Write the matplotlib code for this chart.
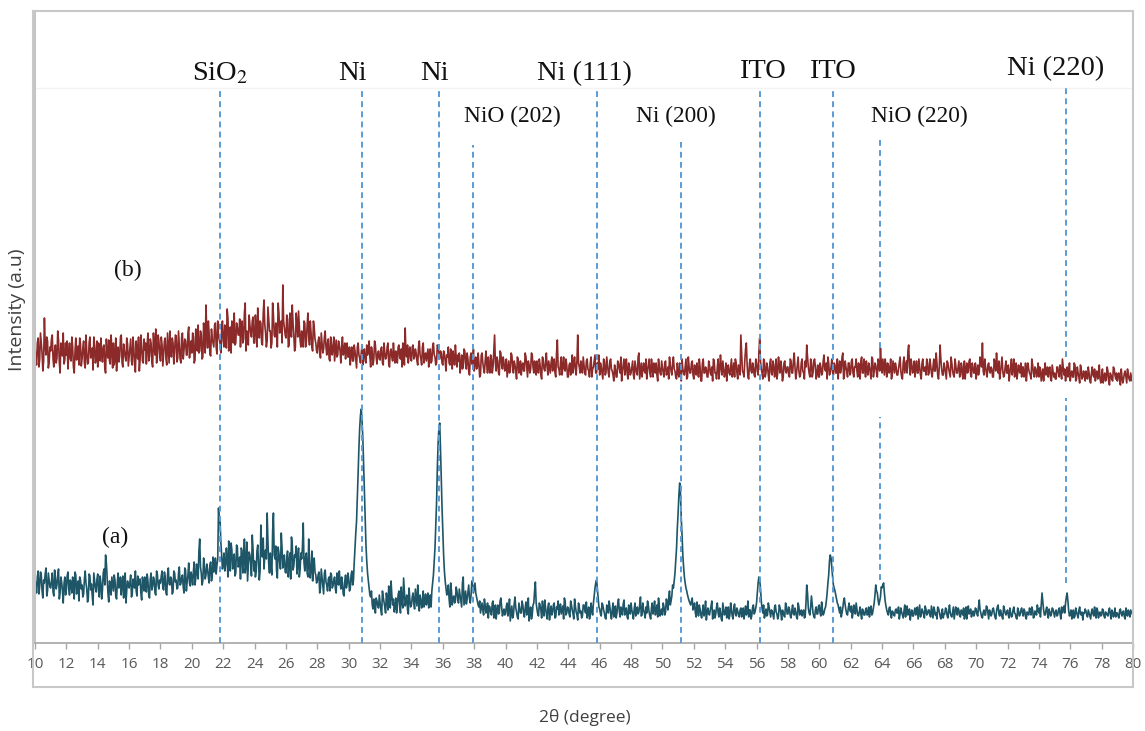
import numpy as np
import matplotlib
matplotlib.use("Agg")
import matplotlib.pyplot as plt
from matplotlib.patches import Rectangle

# ---------------- data (heights, arbitrary units) ----------------
two_theta_start = 10.0
two_theta_end = 80.0

# trace (a): Ni film (teal) at 10.0, 10.1, ... 80.0
intensity_a = [
    64,50,72,57,68,45,60,75,52,63,
    55,70,47,65,58,74,50,61,40,66,
    53,71,48,60,66,44,68,56,42,63,
    58,49,72,54,45,67,59,38,62,51,
    69,46,60,53,74,88,64,41,57,66,
    52,63,44,70,56,48,67,59,40,62,
    55,68,49,61,72,47,58,64,43,60,
    66,51,62,45,70,57,63,48,69,54,
    60,72,53,66,48,75,58,64,51,70,
    63,55,76,59,68,50,73,61,80,57,
    66,72,58,79,64,104,70,62,77,68,
    74,60,81,67,71,85,78,135,122,88,
    80,72,95,66,84,100,74,89,70,96,
    78,64,92,83,70,101,76,88,67,94,
    82,71,98,63,118,86,74,93,130,79,
    90,68,130,84,72,96,80,110,75,88,
    70,92,81,64,99,77,86,69,95,73,
    84,120,72,90,66,80,74,62,85,68,
    62,71,55,66,49,73,58,64,52,68,
    57,66,50,63,72,54,60,47,68,59,
    64,55,72,62,95,122,170,215,234,205,
    152,98,70,55,46,38,44,30,42,35,
    40,28,46,36,50,33,44,62,38,31,
    45,36,52,30,41,65,37,48,29,43,
    38,50,34,46,58,32,44,40,36,49,
    42,35,48,52,68,95,140,200,220,165,
    110,72,55,50,44,60,38,47,42,52,
    40,48,36,66,45,39,51,44,48,58,
    55,50,42,36,30,40,28,38,33,25,
    36,28,42,31,24,38,30,45,27,34,
    29,40,33,22,37,28,46,31,24,35,
    30,38,26,41,33,22,36,28,40,61,
    34,27,38,25,32,43,29,36,23,37,
    31,40,26,34,28,39,33,24,41,30,
    35,26,38,29,44,31,23,36,32,27,
    38,30,25,36,28,33,40,55,63,45,
    34,27,38,30,24,35,42,29,33,26,
    37,30,44,26,33,39,28,35,24,31,
    40,29,34,27,36,31,46,28,33,25,
    30,38,27,35,29,42,32,26,37,30,
    28,36,31,40,45,38,47,55,70,95,
    130,160,125,88,66,55,48,42,38,45,
    36,30,41,27,34,25,38,30,23,35,
    28,37,24,33,29,40,26,31,22,34,
    30,25,36,28,33,24,39,27,32,26,
    35,29,24,37,30,26,33,28,38,31,
    40,60,63,42,30,25,34,28,36,26,
    32,24,38,29,27,35,23,31,26,37,
    29,34,25,38,28,31,24,36,30,27,
    33,26,58,35,28,47,30,25,36,29,
    38,27,33,30,36,50,68,88,75,58,
    52,44,38,30,26,35,45,33,28,40,
    31,25,38,29,34,27,36,24,32,28,
    35,29,26,37,30,40,58,50,38,46,
    55,60,42,33,28,36,25,31,27,34,
    30,24,35,28,32,26,37,29,23,33,
    27,35,30,24,38,28,32,25,34,29,
    33,26,31,36,28,24,35,27,30,25,
    29,34,25,38,27,31,24,36,28,33,
    26,31,35,28,24,37,30,26,32,29,
    34,27,43,30,25,33,28,36,24,31,
    29,35,26,32,38,27,30,24,34,28,
    33,25,30,27,36,29,24,32,28,35,
    27,32,24,30,35,28,33,26,31,38,
    30,26,50,33,28,36,25,31,29,34,
    26,33,28,35,24,30,37,40,50,32,
    29,24,33,27,31,25,36,28,23,30,
    32,26,30,24,34,27,29,35,25,31,
    28,33,25,30,27,35,24,31,28,26,
    30,25,34,27,32,24,29,33,26,31,
    28,
]

# trace (a) at the half steps 10.05, 10.15, ... 79.95
intensity_a_half = [
    58,66,49,71,52,63,69,47,70,56,
    62,51,73,54,68,44,66,52,59,48,
    67,55,63,50,57,71,49,62,66,54,
    46,64,60,41,69,53,47,70,55,64,
    52,67,44,70,58,80,50,62,48,59,
    68,47,61,55,66,59,45,70,53,57,
    61,46,64,55,52,67,63,50,66,52,
    57,69,48,64,53,66,50,72,58,63,
    67,55,71,50,68,59,66,49,72,61,
    54,70,58,66,56,75,52,68,60,71,
    58,81,65,70,92,76,58,85,64,79,
    66,78,62,86,75,69,84,120,100,74,
    90,78,84,102,72,93,81,67,98,76,
    86,95,70,104,78,62,91,80,108,72,
    66,92,80,72,95,105,88,84,102,70,
    76,112,88,97,65,90,74,95,86,71,
    84,66,90,106,73,88,97,80,66,90,
    96,80,86,70,104,65,92,79,71,60,
    68,50,74,57,70,61,52,66,70,55,
    63,54,70,58,61,66,49,62,55,70,
    52,68,58,80,110,145,195,228,222,180,
    125,82,62,48,52,34,40,45,37,48,
    33,52,41,30,44,57,35,48,44,36,
    30,48,38,56,35,50,42,33,55,36,
    46,40,54,37,43,48,35,52,42,38,
    50,40,36,60,82,118,175,215,195,135,
    88,62,48,58,36,52,45,40,56,44,
    54,42,60,38,52,44,58,40,62,50,
    60,46,38,42,35,33,44,30,40,37,
    30,40,25,38,33,29,42,36,31,28,
    37,27,44,30,25,39,35,26,40,30,
    42,30,35,28,45,31,24,38,52,40,
    29,40,33,42,27,35,24,40,31,28,
    38,25,36,42,33,29,37,45,28,36,
    29,42,33,24,37,28,40,30,25,38,
    33,41,30,24,40,28,47,60,55,36,
    29,40,33,25,38,30,36,24,40,31,
    25,39,32,36,28,43,34,26,38,29,
    33,24,40,31,29,38,27,40,30,36,
    42,31,24,40,33,28,38,45,27,34,
    40,28,44,33,52,42,58,62,82,115,
    148,150,108,76,60,52,45,40,42,33,
    40,26,35,38,28,32,27,42,31,29,
    33,42,29,25,36,30,35,24,40,28,
    36,31,24,40,27,36,29,35,28,33,
    26,35,31,28,42,33,24,36,29,35,
    50,66,55,35,38,29,27,40,31,33,
    28,36,31,24,38,30,33,27,40,29,
    36,27,33,29,35,26,40,28,33,31,
    25,40,50,30,36,38,27,33,29,37,
    30,41,28,34,42,60,82,85,66,55,
    48,40,34,36,30,42,38,29,35,33,
    37,30,33,40,28,31,29,34,28,33,
    28,36,33,28,35,48,52,43,42,56,
    58,50,37,30,35,29,32,28,33,30,
    36,29,31,25,38,33,28,34,30,27,
    32,28,36,31,26,34,29,37,28,33,
    28,37,25,33,30,36,31,24,34,29,
    35,27,32,30,26,36,30,33,35,27,
    33,28,24,36,31,29,34,30,27,35,
    29,36,33,26,31,28,37,30,33,27,
    34,30,24,36,29,33,26,37,30,31,
    28,35,26,33,30,25,35,27,33,30,
    34,26,31,28,33,36,25,32,28,33,
    35,38,42,28,33,29,34,27,35,30,
    31,27,33,29,36,34,30,46,42,27,
    33,29,25,35,28,33,29,31,30,34,
    28,33,27,31,29,36,25,32,30,27,
    34,27,31,28,32,29,33,26,35,30,
    27,33,29,31,26,35,27,30,33,29,
]

# trace (b): NiO film (dark red) at 10.0, 10.1, ... 80.0
intensity_b = [
    296,278,305,284,300,272,325,288,302,280,
    292,308,276,298,285,303,270,294,310,283,
    288,274,300,282,296,270,305,286,278,299,
    284,302,275,291,280,306,287,273,298,285,
    276,293,305,281,298,270,289,303,279,294,
    300,283,272,296,287,308,276,292,282,299,
    286,304,278,295,271,290,306,283,297,280,
    293,279,310,287,300,276,296,314,285,302,
    282,298,289,305,278,294,312,286,300,291,
    307,285,298,280,310,293,302,288,316,296,
    290,306,283,300,318,292,308,286,302,338,
    295,310,287,304,296,320,289,306,299,314,
    302,318,295,325,306,290,312,330,300,316,
    308,296,322,304,340,312,298,318,306,326,
    300,315,335,305,320,298,343,310,302,324,
    312,300,328,306,318,340,310,322,358,315,
    305,324,298,316,338,308,296,320,332,303,
    312,296,320,302,330,298,310,292,316,300,
    290,306,285,300,294,312,288,304,282,298,
    295,282,303,288,298,280,306,290,284,300,
    286,278,296,282,292,275,300,285,290,278,
    294,280,288,302,276,290,284,298,279,292,
    283,296,278,290,286,300,276,294,282,288,
    292,280,298,284,276,290,315,286,280,296,
    282,298,286,290,278,302,284,296,280,290,
    288,276,294,282,300,286,280,296,284,290,
    278,290,272,286,280,294,274,284,298,276,
    282,270,288,276,292,274,284,268,290,278,
    272,286,276,280,268,290,274,282,278,286,
    270,284,276,308,272,282,268,290,274,280,
    276,266,282,272,288,270,278,264,284,274,
    268,280,272,286,266,278,274,288,270,276,
    282,270,278,264,284,272,290,268,276,280,
    272,284,266,303,274,280,268,286,272,278,
    266,280,274,270,286,268,308,276,282,270,
    278,268,284,272,280,266,276,288,270,274,
    268,276,264,282,270,278,266,284,272,262,
    274,266,280,270,262,278,268,284,264,276,
    270,282,264,276,268,290,272,266,280,270,
    264,278,270,284,266,272,280,262,276,268,
    276,266,282,270,264,278,268,286,272,264,
    270,280,262,274,268,284,266,276,270,282,
    264,272,280,266,276,262,284,270,274,266,
    278,268,262,282,270,276,264,288,268,274,
    270,262,278,268,284,272,266,280,264,276,
    308,272,266,294,278,264,284,270,276,266,
    280,268,305,274,264,282,270,276,262,284,
    268,278,272,264,286,270,276,266,282,270,
    276,266,282,270,290,264,278,272,268,284,
    270,282,298,276,266,280,270,284,264,278,
    266,276,270,288,272,264,280,270,284,268,
    278,270,264,282,274,290,268,276,266,280,
    270,284,266,276,272,280,264,286,270,274,
    282,268,276,264,284,272,278,266,280,295,
    270,276,284,266,278,272,264,282,270,276,
    268,280,272,264,286,276,270,298,268,278,
    274,266,282,270,276,264,284,272,268,280,
    270,278,266,284,272,280,264,298,274,268,
    276,264,280,270,286,272,266,278,270,282,
    268,276,270,264,280,272,284,266,276,270,
    264,278,272,282,300,268,276,266,280,270,
    274,266,280,290,270,264,278,272,268,282,
    270,262,276,268,284,272,264,278,270,266,
    276,268,262,280,270,264,278,266,274,270,
    266,274,268,262,280,270,266,276,262,272,
    270,264,276,266,272,284,268,262,276,270,
    262,272,266,278,264,270,260,274,266,268,
    272,264,270,260,276,266,262,272,268,264,
    266,260,270,264,272,258,268,262,274,264,
    262,270,258,266,264,272,260,268,262,266,
    264,
]

# trace (b) at the half steps 10.05, 10.15, ... 79.95
intensity_b_half = [
    285,300,276,310,290,282,298,306,275,296,
    304,284,292,280,312,281,300,287,279,300,
    302,290,284,306,276,291,283,297,305,277,
    295,280,308,279,300,285,295,306,280,302,
    300,282,290,296,275,304,285,282,308,275,
    278,305,290,281,306,280,299,286,305,277,
    295,282,306,279,302,284,272,308,282,304,
    300,298,282,304,281,310,288,280,308,289,
    306,277,302,284,310,280,290,305,279,308,
    281,312,284,306,284,304,288,310,285,302,
    310,280,314,292,290,312,284,320,290,310,
    322,289,314,300,318,296,322,304,290,322,
    296,305,334,292,316,322,300,298,320,308,
    324,315,300,330,292,306,328,310,322,300,
    328,296,316,322,300,330,318,296,336,312,
    295,340,308,320,296,330,318,300,322,308,
    328,296,330,306,320,292,330,306,318,296,
    305,322,296,318,306,322,296,322,304,292,
    302,292,310,290,306,296,300,284,306,288,
    306,292,286,302,292,296,288,300,298,286,
    296,290,282,298,284,296,288,280,298,290,
    282,298,294,286,296,278,302,286,290,284,
    294,280,300,284,296,280,292,286,300,280,
    284,296,286,294,300,278,288,298,292,284,
    296,284,294,282,296,288,278,300,288,282,
    294,290,280,296,288,278,298,290,292,280,
    292,282,288,296,278,286,292,278,286,288,
    290,278,274,294,280,290,272,286,280,294,
    280,274,290,266,288,280,270,292,270,276,
    288,270,292,280,286,270,292,278,286,272,
    284,274,270,290,276,282,272,286,270,282,
    278,272,290,276,282,270,290,276,282,268,
    272,284,268,286,274,280,276,282,270,286,
    282,270,290,276,268,286,276,274,284,266,
    278,268,288,280,274,282,280,270,274,286,
    270,282,274,266,286,274,282,270,280,288,
    280,270,284,268,286,270,282,274,268,278,
    266,282,274,286,272,284,274,270,280,268,
    276,268,282,270,286,264,280,274,272,284,
    272,284,266,276,280,270,268,284,270,282,
    270,280,268,276,286,272,280,274,266,280,
    266,272,284,270,276,264,286,270,280,268,
    278,268,272,284,262,280,270,276,266,282,
    270,276,284,270,264,284,272,276,282,266,
    280,274,270,276,266,280,284,270,278,268,
    290,270,282,300,266,280,272,280,268,284,
    272,290,282,270,284,266,280,268,280,270,
    282,266,284,270,276,282,262,280,272,276,
    268,284,270,282,276,270,286,266,280,272,
    264,276,286,270,284,266,282,276,270,266,
    280,268,282,274,280,286,268,276,272,280,
    270,284,276,270,286,264,282,272,280,268,
    282,270,276,284,266,276,282,270,284,266,
    272,280,270,286,266,280,270,284,272,280,
    284,268,276,280,270,284,268,276,280,268,
    274,286,266,280,270,282,292,276,284,270,
    282,276,270,284,268,280,272,276,284,268,
    284,270,276,272,290,268,276,284,268,280,
    270,282,274,266,280,268,284,270,276,266,
    280,264,282,274,270,282,268,280,270,280,
    272,268,286,276,272,284,270,278,272,276,
    266,284,272,276,282,270,286,266,276,270,
    278,270,284,274,266,280,270,272,280,276,
    266,280,272,274,268,284,270,276,266,280,
    276,262,274,272,268,276,274,264,278,266,
    264,276,270,278,264,276,274,270,266,280,
    270,266,280,262,276,266,278,264,272,262,
    266,276,262,270,268,274,270,264,278,260,
    274,266,262,276,262,270,264,276,268,270,
    268,262,274,260,270,266,274,264,270,262,
]

# reference phase positions (2theta) and their labels
phase_labels = ["SiO$_2$", "Ni", "Ni", "NiO (202)", "Ni (111)", "Ni (200)",
                "ITO", "ITO", "NiO (220)", "Ni (220)"]
phase_positions = [21.78, 30.85, 35.74, 37.92, 45.83, 51.18, 56.2, 60.88, 63.87, 75.75]

x_ticks = list(range(10, 81, 2))


def interleave(full, half):
    out = np.empty(len(full) + len(half))
    out[0::2] = full
    out[1::2] = half
    return out


# ---------------- figure ----------------
plt.rcParams["mathtext.fontset"] = "stix"
W, H = 1145, 731
fig = plt.figure(figsize=(W / 100, H / 100), dpi=100)

ax_left, ax_right, ax_top, ax_bottom = 35, 1133, 11, 643
ax = fig.add_axes([ax_left / W, 1 - ax_bottom / H, (ax_right - ax_left) / W, (ax_bottom - ax_top) / H])

y_a = interleave(intensity_a, intensity_a_half)
y_b = interleave(intensity_b, intensity_b_half)
x_a = np.linspace(two_theta_start, two_theta_end, len(y_a))
x_b = np.linspace(two_theta_start, two_theta_end, len(y_b))

ax.plot(x_b, y_b, color="#8c2a2a", lw=1.2, zorder=2)
ax.plot(x_a, y_a, color="#1e5667", lw=1.2, zorder=2)

ax.set_xlim(10, 80)
ax.set_ylim(0, 632)

# faint horizontal guide under the labels
ax.axhline(555, color="#f3f3f3", lw=1.0, zorder=0)

# dashed reference lines: (bottom, top) segments in data units
line_segments = [
    [(0, 555)], [(0, 555)], [(0, 555)], [(0, 498)], [(0, 555)], [(0, 501)],
    [(0, 555)], [(0, 555)], [(63, 226), (295, 503)], [(60, 245), (286, 555)],
]
for pos, segs in zip(phase_positions, line_segments):
    for lo, hi in segs:
        ax.plot([pos, pos], [lo, hi], color="#5b9bd5", lw=1.4,
                linestyle=(0, (3, 2.2)), zorder=3)

# labels (x in 2theta, y baseline in data units, size)
label_layout = [
    (21.79, 563, 20.5), (30.21, 563, 20.5), (35.44, 563, 20.5), (40.41, 521, 16.8),
    (45.0, 563, 20.5), (50.86, 521, 16.8), (56.35, 565, 20.5), (60.81, 565, 20.5),
    (66.36, 521, 16.8), (75.09, 568, 20.5),
]
for text, (lx, ly, fs) in zip(phase_labels, label_layout):
    ax.text(lx, ly, text, ha="center", va="baseline", fontsize=fs,
            family="Liberation Serif", color="#111111", zorder=4)

ax.text(15.9, 373, "(b)", ha="center", va="center", fontsize=17,
        family="Liberation Serif", color="#111111")
ax.text(15.1, 106, "(a)", ha="center", va="center", fontsize=17,
        family="Liberation Serif", color="#111111")

# axes styling
for s in ["top", "right"]:
    ax.spines[s].set_visible(False)
ax.spines["left"].set_color("#c4c4c4")
ax.spines["left"].set_linewidth(1.5)
ax.spines["bottom"].set_color("#a6a6a6")
ax.spines["bottom"].set_linewidth(1.2)
ax.set_yticks([])
ax.set_xticks(x_ticks)
ax.set_xticklabels([str(t) for t in x_ticks], family="Open Sans", fontsize=11, color="#595959")
ax.tick_params(axis="x", direction="out", length=4, width=1, color="#a6a6a6", pad=6)

# outer chart border
fig.patches.append(Rectangle((33 / W, 1 - 687 / H), (1133 - 33) / W, (687 - 11) / H,
                             transform=fig.transFigure, fill=False,
                             edgecolor="#c8c8c8", lw=1.5, zorder=0))

fig.text(585 / W, 1 - 717 / H, "2θ (degree)", ha="center", va="center",
         family="Open Sans", fontsize=12.5, color="#404040")
fig.text(17 / W, 1 - 310 / H, "Intensity (a.u)", ha="center", va="center",
         rotation=90, family="Open Sans", fontsize=14, color="#404040")

fig.savefig("out.png", dpi=100)
